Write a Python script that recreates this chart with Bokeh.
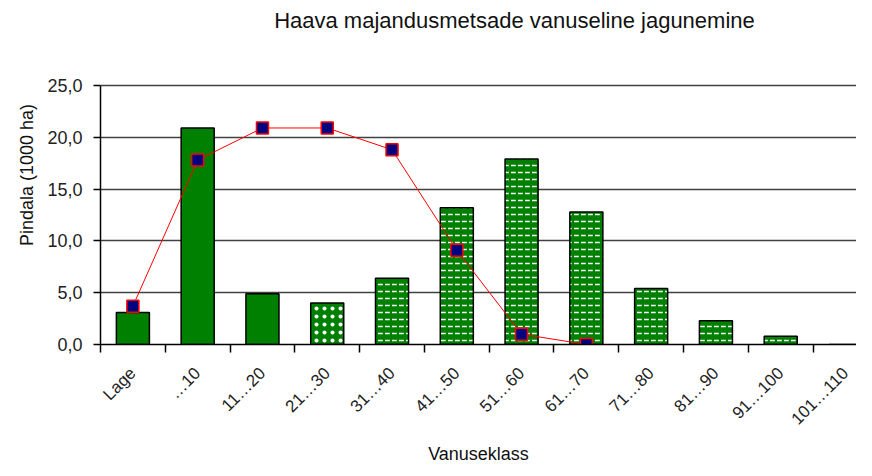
import math
import numpy as np
from bokeh.plotting import figure
from bokeh.models import FixedTicker, CustomJSTickFormatter, ColumnDataSource, Range1d, Label
from bokeh.embed import file_html
from bokeh.resources import INLINE

categories = ["Lage", "…10", "11…20", "21…30", "31…40", "41…50",
              "51…60", "61…70", "71…80", "81…90", "91…100", "101…110"]
area = [3.1, 20.9, 4.9, 4.0, 6.4, 13.2, 17.9, 12.8, 5.4, 2.3, 0.8, 0.0]
line_vals = [3.7, 17.8, 20.9, 20.9, 18.8, 9.1, 1.0, 0.0]
fill_style = ["solid"] * 3 + ["dot"] + ["dash"] * 8
y_ticks = [0, 5, 10, 15, 20, 25]
title_text = "Haava majandusmetsade vanuseline jagunemine"
x_title = "Vanuseklass"
y_title = "Pindala (1000 ha)"

FONT = "Liberation Sans"
n = len(categories)
centers = list(np.arange(n) + 0.5)
bounds = list(np.arange(n + 1).astype(float))
y_max = y_ticks[-1]
y_top = y_max + 80 / 10.36   # extra headroom inside the frame for the title

p = figure(width=856, height=468, output_backend="svg", toolbar_location=None,
           x_range=Range1d(0, 11.67), y_range=Range1d(0, y_top),
           min_border_left=100, min_border_top=5, min_border_bottom=124, min_border_right=0)
p.outline_line_color = None
p.background_fill_color = "white"

# bars
green = "#008000"
for style, pat, scale in [("solid", None, 8), ("dot", "dot", 8), ("dash", "horizontal_dash", 7)]:
    idx = [i for i, s in enumerate(fill_style) if s == style]
    src = ColumnDataSource(dict(x=[centers[i] for i in idx], top=[area[i] for i in idx]))
    kw = {}
    if pat:
        kw = dict(hatch_pattern=pat, hatch_color="white", hatch_scale=scale, hatch_weight=1.5)
    p.vbar(x="x", top="top", width=0.51, bottom=0, source=src, fill_color=green,
           line_color="black", line_width=1.5, **kw)

# line with markers
lsrc = ColumnDataSource(dict(x=centers[:len(line_vals)], y=line_vals))
p.line("x", "y", source=lsrc, line_color="red", line_width=1)
p.scatter("x", "y", source=lsrc, marker="square", size=12, fill_color="#000080",
          line_color="red", line_width=1.5)

# title
p.add_layout(Label(x=6.39, y=y_max + 65 / 10.36, text=title_text, text_align="center",
                   text_baseline="middle", text_font=FONT, text_font_size="22px",
                   text_color="#111111"))

# axes
p.yaxis.bounds = (0, y_max)
p.yaxis.ticker = FixedTicker(ticks=y_ticks)
p.yaxis.formatter = CustomJSTickFormatter(code="return tick.toFixed(1).replace('.', ',');")
p.yaxis.major_tick_out = 7
p.yaxis.major_tick_in = 0
p.yaxis.minor_tick_out = 0
p.yaxis.major_label_standoff = 11
p.yaxis.major_label_text_font_size = "18px"
p.yaxis.axis_label = y_title
p.yaxis.axis_label_standoff = 7
p.yaxis.axis_label_text_font_size = "18px"

p.xaxis.ticker = FixedTicker(ticks=centers, minor_ticks=bounds)
p.xaxis.major_label_overrides = {float(c): lab for c, lab in zip(centers, categories)}
p.xaxis.major_tick_out = 0
p.xaxis.major_tick_in = 0
p.xaxis.minor_tick_out = 8
p.xaxis.minor_tick_in = 0
p.xaxis.minor_tick_line_color = "black"
p.xaxis.minor_tick_line_width = 1.5
p.xaxis.major_label_orientation = math.pi / 4
p.xaxis.major_label_standoff = 18
p.xaxis.major_label_text_font_size = "17px"
p.xaxis.axis_label = x_title
p.xaxis.axis_label_standoff = 6
p.xaxis.axis_label_text_font_size = "18px"

for ax in (p.xaxis, p.yaxis):
    ax.axis_line_color = "black"
    ax.axis_line_width = 1.5
    ax.major_tick_line_color = "black"
    ax.major_tick_line_width = 1.5
    ax.major_label_text_font = FONT
    ax.major_label_text_color = "#222222"
    ax.axis_label_text_font = FONT
    ax.axis_label_text_font_style = "normal"
    ax.axis_label_text_color = "#111111"

p.xgrid.visible = False
p.ygrid.ticker = FixedTicker(ticks=y_ticks)
p.ygrid.grid_line_color = "#404040"
p.ygrid.grid_line_width = 1.5

open("out.html", "w").write(file_html(p, INLINE))
